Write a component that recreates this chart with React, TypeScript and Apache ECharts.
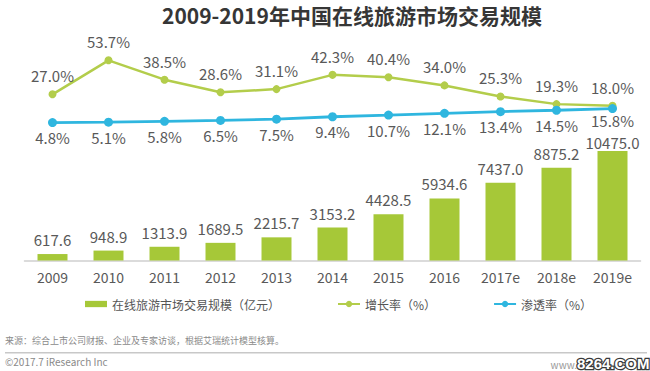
import React, { useEffect, useRef } from "react";
import * as echarts from "echarts";

const categories = ["2009", "2010", "2011", "2012", "2013", "2014", "2015", "2016", "2017e", "2018e", "2019e"];
const marketScale = [617.6, 948.9, 1313.9, 1689.5, 2215.7, 3153.2, 4428.5, 5934.6, 7437.0, 8875.2, 10475.0];
const growthRate = [27.0, 53.7, 38.5, 28.6, 31.1, 42.3, 40.4, 34.0, 25.3, 19.3, 18.0];
const penetrationRate = [4.8, 5.1, 5.8, 6.5, 7.5, 9.4, 10.7, 12.1, 13.4, 14.5, 15.8];

const titleText = "2009-2019年中国在线旅游市场交易规模";
const seriesNames = ["在线旅游市场交易规模（亿元）", "增长率（%）", "渗透率（%）"];
const sourceText = "来源：综合上市公司财报、企业及专家访谈，根据艾瑞统计模型核算。";
const copyrightText = "©2017.7 iResearch Inc";

const FONT = "'Noto Sans CJK SC', 'Noto Sans', sans-serif";
const BAR = "#a6c838";
const GREEN = "#b3cd4b";
const BLUE = "#2fb6df";
const LABEL = "#595959";

export default function App() {
  const ref = useRef<HTMLDivElement>(null);
  useEffect(() => {
    if (!ref.current) return;
    const chart = echarts.init(ref.current, undefined, { renderer: "svg" });
    const gridLeft = 24.5;
    const gridRight = 9.5;
    const lastIdx = marketScale.length - 1;
    const barData = marketScale.map((v, i) =>
      i === lastIdx ? { value: v, label: { distance: 1 } } : v
    );
    const blueData = penetrationRate.map((v, i) =>
      i === lastIdx ? { value: v, label: { distance: 0 } } : v
    );
    chart.setOption({
      animation: false,
      backgroundColor: "#ffffff",
      textStyle: { fontFamily: FONT },
      title: {
        text: titleText,
        left: 162,
        top: 4,
        padding: 0,
        textStyle: { fontSize: 21, fontWeight: "bold", color: "#363636", fontFamily: FONT },
      },
      legend: {
        left: 85,
        top: 298,
        padding: 0,
        itemGap: 57,
        itemWidth: 22,
        itemHeight: 8,
        textStyle: { fontSize: 12, color: "#555", fontFamily: FONT },
        data: [
          { name: seriesNames[0], icon: "path://M0,0h21v6h-21z" },
          { name: seriesNames[1] },
          { name: seriesNames[2] },
        ],
      },
      grid: [
        { left: gridLeft, right: gridRight, top: 140.3, bottom: 110.5 },
        { left: gridLeft, right: gridRight, top: 52.3, bottom: 242.3 },
      ],
      xAxis: [
        {
          type: "category",
          gridIndex: 0,
          data: categories,
          axisLine: { lineStyle: { color: "#cfcfcf", width: 1.5 } },
          axisTick: { show: false },
          axisLabel: { fontSize: 14, color: LABEL, margin: 9, fontFamily: FONT },
        },
        {
          type: "category",
          gridIndex: 1,
          data: categories,
          show: false,
        },
      ],
      yAxis: [
        { type: "value", gridIndex: 0, min: 0, max: 11500, show: false, splitLine: { show: false } },
        { type: "value", gridIndex: 1, min: 0, max: 60, show: false, splitLine: { show: false } },
      ],
      series: [
        {
          name: seriesNames[0],
          type: "bar",
          xAxisIndex: 0,
          yAxisIndex: 0,
          data: barData,
          barWidth: 30,
          itemStyle: { color: BAR },
          label: {
            show: true,
            position: "top",
            distance: 7,
            fontSize: 15,
            color: LABEL,
            fontFamily: FONT,
            formatter: (p: any) => Number(p.value).toFixed(1),
          },
        },
        {
          name: seriesNames[1],
          type: "line",
          xAxisIndex: 1,
          yAxisIndex: 1,
          data: growthRate,
          symbol: "circle",
          symbolSize: 8,
          lineStyle: { color: GREEN, width: 2.5 },
          itemStyle: { color: GREEN },
          label: {
            show: true,
            position: "top",
            distance: 7,
            fontSize: 15,
            color: LABEL,
            fontFamily: FONT,
            formatter: (p: any) => Number(p.value).toFixed(1) + "%",
          },
        },
        {
          name: seriesNames[2],
          type: "line",
          xAxisIndex: 1,
          yAxisIndex: 1,
          data: blueData,
          symbol: "circle",
          symbolSize: 9,
          lineStyle: { color: BLUE, width: 2.8 },
          itemStyle: { color: BLUE },
          label: {
            show: true,
            position: "bottom",
            distance: 3,
            fontSize: 15,
            color: LABEL,
            fontFamily: FONT,
            formatter: (p: any) => Number(p.value).toFixed(1) + "%",
          },
        },
      ],
      graphic: [
        {
          type: "text",
          left: 5,
          top: 336,
          style: { text: sourceText, fontSize: 9, fill: "#8a8a8a", fontFamily: FONT },
        },
        {
          type: "line",
          shape: { x1: 5, y1: 352.7, x2: 647, y2: 352.7 },
          style: { stroke: "#c8c8c8", lineWidth: 1.5 },
        },
        {
          type: "text",
          left: 5,
          top: 356,
          style: { text: copyrightText, fontSize: 10, fill: "#8a8a8a", fontFamily: FONT },
        },
        {
          type: "text",
          x: 577,
          y: 364,
          style: {
            text: "www.",
            fontSize: 10,
            fill: "#9a9a9a",
            fontFamily: FONT,
            align: "right",
            verticalAlign: "middle",
          },
        },
        {
          type: "text",
          x: 577,
          y: 363,
          style: {
            text: "8264.COM",
            fontSize: 15,
            fontWeight: "bold",
            fill: "#ffffff",
            stroke: "#3a3a3a",
            lineWidth: 2.5,
            fontFamily: "'Liberation Sans', Arial, sans-serif",
            align: "left",
            verticalAlign: "middle",
          },
        },
      ],
    });
    return () => chart.dispose();
  }, []);
  return (
    <div
      ref={ref}
      style={{ position: "fixed", left: 0, top: 0, width: 650, height: 371, background: "#fff" }}
    />
  );
}
